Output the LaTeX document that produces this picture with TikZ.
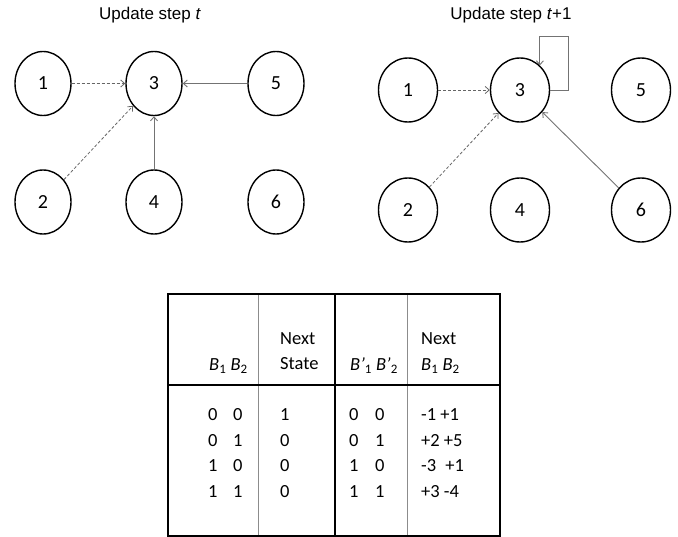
\documentclass[tikz,border=0pt]{standalone}
\usepackage{fontspec}
\setmainfont{Carlito}
\newfontfamily\titlefont{Liberation Sans}
\usetikzlibrary{arrows.meta,shapes.geometric}
\begin{document}
\begin{tikzpicture}[x=1pt,y=-1pt,
 state/.style={ellipse, draw=black, line width=1.4pt, minimum width=56pt, minimum height=64pt, inner sep=0pt, font=\fontsize{20}{22}\selectfont},
 dasharrow/.style={draw=black!60, dash pattern=on 3pt off 2pt, line width=0.8pt, -{Straight Barb[length=4pt,width=7pt]}},
 solidarrow/.style={draw=black!55, line width=0.9pt, -{Straight Barb[length=4pt,width=7pt]}},
 title/.style={font=\titlefont\fontsize{17}{20}\selectfont, inner sep=0pt},
 cell/.style={anchor=base west, inner sep=0pt, font=\fontsize{18.5}{20}\selectfont},
 thickrule/.style={line width=2pt, draw=black},
 thinrule/.style={line width=0.9pt, draw=black!45}]
\useasboundingbox (0,0) rectangle (678,537);

% ---------- left graph ----------
\node[title] (tl) at (150,15) {Update step \textit{t}};
\node[state] (l1) at (43,83.5) {1};
\node[state] (l3) at (154,83.5) {3};
\node[state] (l5) at (276,83.5) {5};
\node[state] (l2) at (43,202) {2};
\node[state] (l4) at (154,202) {4};
\node[state] (l6) at (276,202) {6};
\draw[dasharrow] (l1) -- (l3);
\draw[dasharrow] (l2) -- (l3);
\draw[solidarrow] (l4) -- (l3);
\draw[solidarrow] (l5) -- (l3);

% ---------- right graph ----------
\node[title] (tr) at (511,15) {Update step \textit{t}+1};
\node[state, minimum width=59pt] (r1) at (408,90) {1};
\node[state, minimum width=59pt] (r3) at (520,90) {3};
\node[state, minimum width=59pt] (r5) at (641,90) {5};
\node[state, minimum width=59pt] (r2) at (408,210) {2};
\node[state, minimum width=59pt] (r4) at (520,210) {4};
\node[state, minimum width=59pt] (r6) at (641,210) {6};
\coordinate (loopA) at (568,36);
\draw[dasharrow] (r1) -- (r3);
\draw[dasharrow] (r2) -- (r3);
\draw[solidarrow] (r6) -- (r3);
\draw[solidarrow] (r3.east) -| (loopA) -| (r3.51);

% ---------- table ----------
\draw[thinrule] (258,294) -- (258,536);
\draw[thinrule] (407,294) -- (407,536);
\draw[thickrule] (335,294) -- (335,536);
\draw[thickrule] (168,385) -- (500,385);
\draw[thickrule] (168,294) rectangle (500,536);

% header
\node[cell] (h1) at (209,371) {\textit{B}\textsubscript{1} \textit{B}\textsubscript{2}};
\node[cell] (h2a) at (280,345) {Next};
\node[cell] (h2b) at (280,370) {State};
\node[cell] (h3) at (350,371) {\textit{B’}\textsubscript{1} \textit{B’}\textsubscript{2}};
\node[cell] (h4a) at (421,345) {Next};
\node[cell] (h4b) at (421,371) {\textit{B}\textsubscript{1} \textit{B}\textsubscript{2}};

% rows
\foreach \r/\a/\b/\s/\c/\d/\e [count=\i] in {421/0/0/1/0/0/{-1 +1}, 446.5/0/1/0/0/1/{+2 +5}, 471.5/1/0/0/1/0/{-3\enspace+1}, 497/1/1/0/1/1/{+3 -4}}{
  \node[cell] (a\i) at (208,\r) {\a};
  \node[cell] (b\i) at (233,\r) {\b};
  \node[cell] (s\i) at (280,\r) {\s};
  \node[cell] (c\i) at (349,\r) {\c};
  \node[cell] (d\i) at (375,\r) {\d};
  \node[cell] (e\i) at (421,\r) {\e};
}
\end{tikzpicture}
\end{document}
